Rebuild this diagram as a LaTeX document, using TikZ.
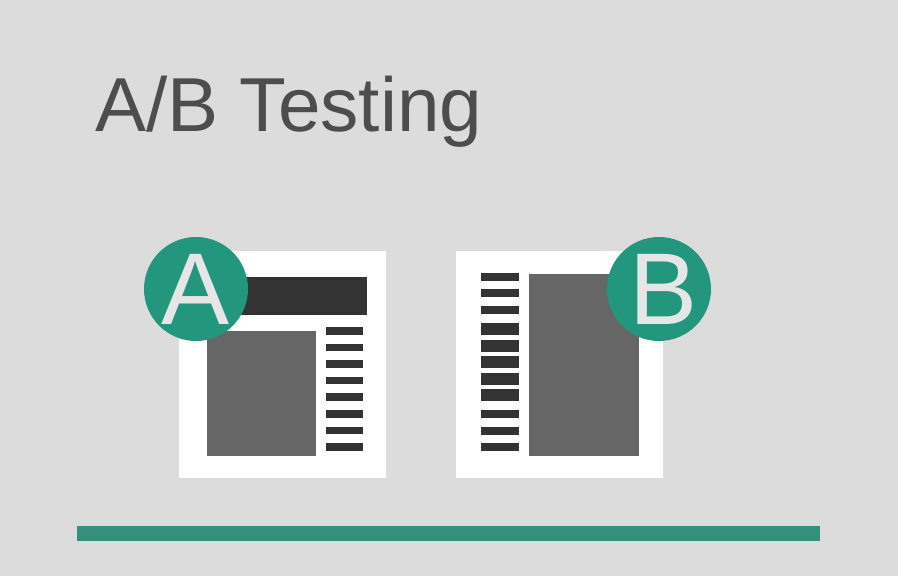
\documentclass[tikz,border=0pt]{standalone}
\usepackage{fontspec}
\setmainfont{Liberation Sans}
\usetikzlibrary{positioning}
\definecolor{bggrey}{RGB}{220,220,220}
\definecolor{titlegrey}{RGB}{77,77,77}
\definecolor{imggrey}{RGB}{102,102,102}
\definecolor{bardark}{RGB}{51,51,51}
\definecolor{abgreen}{RGB}{35,151,126}
\definecolor{rulegreen}{RGB}{54,142,125}
\definecolor{letterlight}{RGB}{230,230,230}

\begin{document}
\begin{tikzpicture}[x=1pt, y=-1pt,
    sheet/.style={fill=white},
    picbox/.style={fill=imggrey},
    textline/.style={fill=bardark},
    badge/.style={circle, fill=abgreen, minimum size=104pt, inner sep=0pt},
    letter/.style={inner sep=0pt, text=letterlight,
        font=\fontsize{102}{102}\selectfont}
]
    \fill[bggrey] (0,0) rectangle (898,576);
    \useasboundingbox (0,0) rectangle (898,576);

    \node[anchor=base west, inner sep=0pt, text=titlegrey,
        font=\fontsize{76.5}{80}\selectfont] (title) at (95,131) {A/B Testing};

    % variant A
    \fill[sheet] (179,251) rectangle (386,478);
    \fill[textline] (206,277) rectangle (367,315);
    \fill[picbox] (207,331) rectangle (316,456);
    \foreach \i in {0,...,7}
        \fill[textline] (326,327+16.6*\i) rectangle (363,334.5+16.6*\i);
    \node[badge] (badgeA) at (196,289) {};
    \node[letter] (letterA) at (badgeA.center) {A};

    % variant B
    \fill[sheet] (456,251) rectangle (663,478);
    \fill[picbox] (529,274) rectangle (639,456);
    \foreach \y in {276.5,293,310,414,431,447}
        \fill[textline] (481,\y-4) rectangle (519,\y+4);
    \foreach \y in {329,345.5,362,378.5,395}
        \fill[textline] (481,\y-6) rectangle (519,\y+6);
    \node[badge] (badgeB) at (659,289) {};
    \node[letter, xshift=5pt] (letterB) at (badgeB.center) {B};

    \fill[rulegreen] (77,526) rectangle (820,541);
\end{tikzpicture}
\end{document}
